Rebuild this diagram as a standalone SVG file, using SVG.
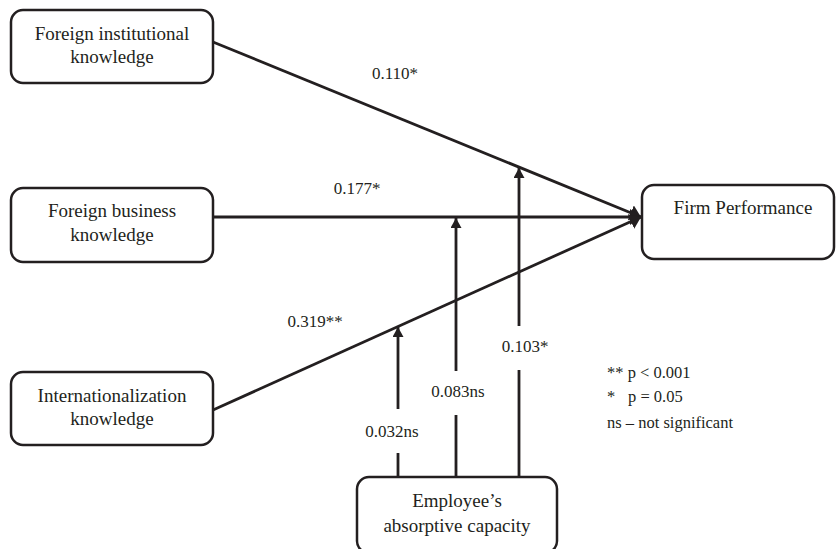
<svg xmlns="http://www.w3.org/2000/svg" width="837" height="549" viewBox="0 0 837 549">
<style>
.box{fill:#fff;stroke:#231f20;stroke-width:2.5}
.ntxt{font-family:"Liberation Serif","Times New Roman",serif;font-size:19px;fill:#231f20;text-anchor:middle}
.lbl{font-family:"Liberation Serif","Times New Roman",serif;font-size:17px;fill:#231f20;text-anchor:middle}
.leg{font-family:"Liberation Serif","Times New Roman",serif;font-size:16.5px;fill:#231f20}
.edge{fill:none;stroke:#231f20;stroke-width:2.8}
.gap{fill:#fff;stroke:none}
</style>
<defs>
<marker id="ah" viewBox="0 0 11 16" refX="11" refY="8" markerWidth="11" markerHeight="16" markerUnits="userSpaceOnUse" orient="auto">
<path d="M0,0 L11,8 L0,16 Z" fill="#231f20"/>
</marker>
<marker id="av" viewBox="0 0 10 11" refX="10" refY="5.5" markerWidth="10" markerHeight="11" markerUnits="userSpaceOnUse" orient="auto">
<path d="M0,0 L10,5.5 L0,11 Z" fill="#231f20"/>
</marker>
</defs>
<g id="connectors">
<line class="edge" x1="213" y1="42" x2="641" y2="217" marker-end="url(#ah)"/>
<line class="edge" x1="213" y1="217" x2="641" y2="217" marker-end="url(#ah)"/>
<line class="edge" x1="213" y1="410" x2="641" y2="217" marker-end="url(#ah)"/>
<line class="edge" x1="398" y1="477" x2="398" y2="327" marker-end="url(#av)"/>
<line class="edge" x1="456" y1="477" x2="456" y2="218" marker-end="url(#av)"/>
<line class="edge" x1="519" y1="477" x2="519" y2="168" marker-end="url(#av)"/>
</g>
<g id="edge-labels">
<text class="lbl" x="395" y="79">0.110*</text>
<text class="lbl" x="357" y="194">0.177*</text>
<text class="lbl" x="315" y="327">0.319**</text>
<rect class="gap" x="388" y="409" width="20" height="44"/>
<text class="lbl" x="392" y="437">0.032ns</text>
<rect class="gap" x="446" y="371" width="20" height="44"/>
<text class="lbl" x="458" y="397">0.083ns</text>
<rect class="gap" x="509" y="326" width="20" height="44"/>
<text class="lbl" x="525" y="352">0.103*</text>
</g>
<g id="node-fik">
<rect class="box" x="11" y="10" width="202" height="73" rx="12"/>
<text class="ntxt" x="112" y="40">Foreign institutional</text>
<text class="ntxt" x="112" y="63">knowledge</text>
</g>
<g id="node-fbk">
<rect class="box" x="11" y="188" width="202" height="74" rx="12"/>
<text class="ntxt" x="112" y="217">Foreign business</text>
<text class="ntxt" x="112" y="241">knowledge</text>
</g>
<g id="node-ik">
<rect class="box" x="11" y="372" width="202" height="73" rx="12"/>
<text class="ntxt" x="112" y="402">Internationalization</text>
<text class="ntxt" x="112" y="425">knowledge</text>
</g>
<g id="node-fp">
<rect class="box" x="642" y="185" width="192" height="74" rx="12"/>
<text class="ntxt" x="743" y="214">Firm Performance</text>
</g>
<g id="node-eac">
<rect class="box" x="357" y="477" width="200" height="76" rx="12"/>
<text class="ntxt" x="457" y="507">Employee’s</text>
<text class="ntxt" x="457" y="532">absorptive capacity</text>
</g>
<g id="legend">
<text class="leg" x="607" y="378">** p &lt; 0.001</text>
<text class="leg" x="607" y="402">*<tspan x="628">p = 0.05</tspan></text>
<text class="leg" x="607" y="428">ns – not significant</text>
</g>
</svg>
